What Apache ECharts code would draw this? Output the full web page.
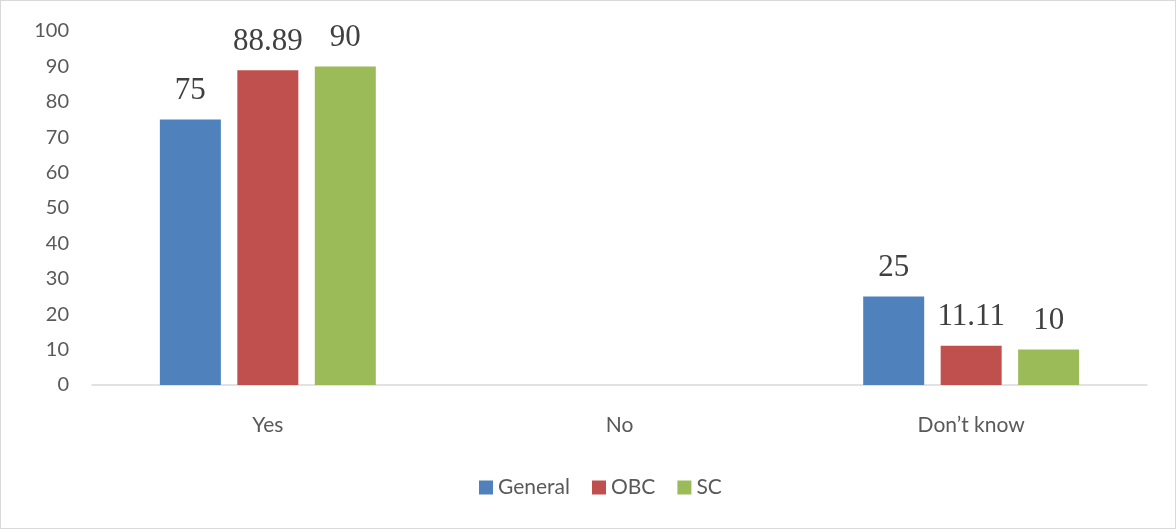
<!DOCTYPE html>
<html><head><meta charset="utf-8">
<script src="https://cdn.jsdelivr.net/npm/echarts@6/dist/echarts.min.js"></script>
<style>
html,body{margin:0;padding:0;background:#fff;}
#wrap{position:absolute;left:0;top:0;width:1174px;height:527px;border:1px solid #d9d9d9;}
#c{width:1174px;height:527px;}
</style></head>
<body><div id="wrap"><div id="c"></div></div>
<script>
const categories = ['Yes', 'No', 'Don\u2019t know'];
const general = [75, null, 25];
const obc = [88.89, null, 11.11];
const sc = [90, null, 10];
const seriesNames = ['General', 'OBC', 'SC'];
const colors = ['#4F81BD', '#C0504D', '#9BBB59'];

const chart = echarts.init(document.getElementById('c'));
const font = 'Lato, "Open Sans", sans-serif';
const lbl = {show: true, position: 'top', distance: 13, fontFamily: '"Liberation Serif", "Times New Roman", serif', fontSize: 31, color: '#404040'};
function mk(name, data, color) {
  return {name, type: 'bar', data, barWidth: 61, barGap: '27%', itemStyle: {color}, label: lbl};
}
chart.setOption({
  animation: false,
  grid: {left: 91, right: 28, top: 30, bottom: 143},
  legend: {bottom: 25, left: 473, itemWidth: 14, itemHeight: 14, itemGap: 22, icon: 'rect',
    textStyle: {fontFamily: font, fontSize: 21, color: '#595959'}, data: seriesNames},
  xAxis: {type: 'category', data: categories, axisLine: {lineStyle: {color: '#d9d9d9', width: 1.5}}, axisTick: {show: false},
    axisLabel: {margin: 30, fontFamily: font, fontSize: 21, color: '#595959'}},
  yAxis: {type: 'value', min: 0, max: 100, interval: 10, splitLine: {show: false}, axisLine: {show: false}, axisTick: {show: false},
    axisLabel: {margin: 23, fontFamily: font, fontSize: 20, color: '#595959'}},
  series: [mk(seriesNames[0], general, colors[0]), mk(seriesNames[1], obc, colors[1]), mk(seriesNames[2], sc, colors[2])]
});
</script></body></html>
